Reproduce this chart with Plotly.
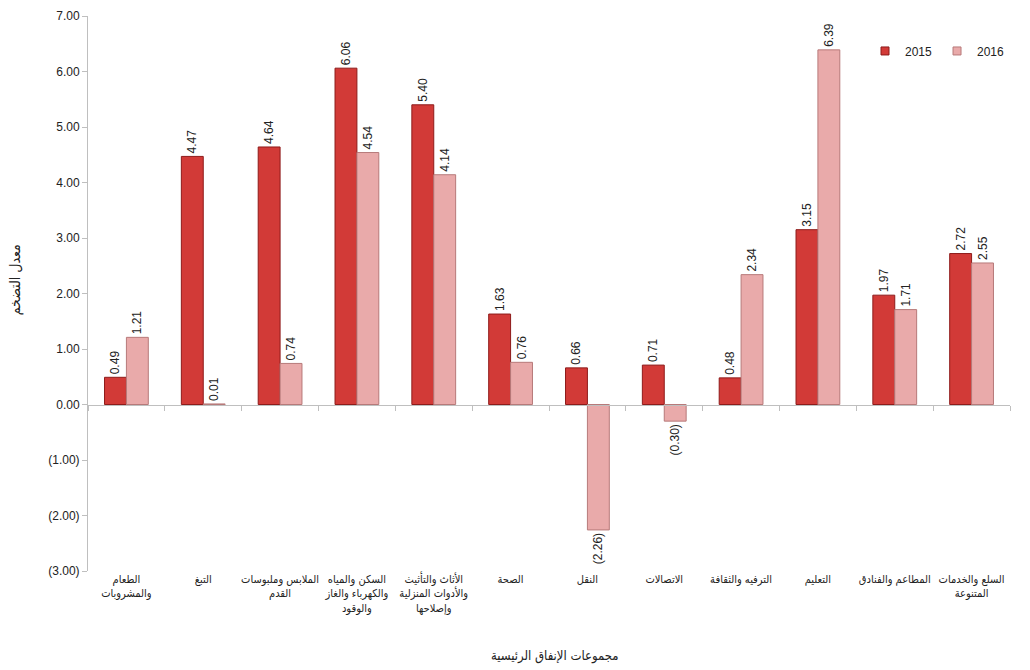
import plotly.graph_objects as go

categories = [
    "الطعام<br>والمشروبات",
    "التبغ",
    "الملابس وملبوسات<br>القدم",
    "السكن والمياه<br>والكهرباء والغاز<br>والوقود",
    "الأثاث والتأثيث<br>والأدوات المنزلية<br>وإصلاحها",
    "الصحة",
    "النقل",
    "الاتصالات",
    "الترفيه والثقافة",
    "التعليم",
    "المطاعم والفنادق",
    "السلع والخدمات<br>المتنوعة",
]
values_2015 = [0.49, 4.47, 4.64, 6.06, 5.40, 1.63, 0.66, 0.71, 0.48, 3.15, 1.97, 2.72]
values_2016 = [1.21, 0.01, 0.74, 4.54, 4.14, 0.76, -2.26, -0.30, 2.34, 6.39, 1.71, 2.55]
y_ticks = [-3, -2, -1, 0, 1, 2, 3, 4, 5, 6, 7]
series_names = ["2015", "2016"]
series_colors = ["#D23A37", "#E9AAAA"]
series_edges = ["#8E1B1A", "#B77A7A"]


def fmt(v):
    return f"({abs(v):.2f})" if v < 0 else f"{v:.2f}"


FONT = "Liberation Sans, Arial, sans-serif"
AR_FONT = "DejaVu Sans Condensed, DejaVu Sans, sans-serif"

fig = go.Figure()
for name, vals, col, edge in zip(series_names, [values_2015, values_2016],
                                 series_colors, series_edges):
    fig.add_trace(go.Bar(
        x=categories, y=vals, name=name, showlegend=False,
        marker=dict(color=col, line=dict(color=edge, width=1)),
        text=[fmt(v) for v in vals], textposition="outside",
        textangle=-90, constraintext="none", cliponaxis=False,
        textfont=dict(size=12, color="#222", family=FONT),
    ))
    # legend entry with small square marker
    fig.add_trace(go.Scatter(
        x=[None], y=[None], mode="markers", name=name,
        marker=dict(symbol="square", size=8, color=col, line=dict(color=edge, width=1)),
    ))

# Invisible trace on overlay axis to draw the zero line with category ticks
fig.add_trace(go.Scatter(x=categories, y=[0] * len(categories), xaxis="x2",
                         mode="lines", line=dict(color="rgba(0,0,0,0)"),
                         showlegend=False, hoverinfo="skip"))

fig.update_layout(
    width=1030, height=670,
    paper_bgcolor="white", plot_bgcolor="white",
    margin=dict(l=80, r=28, t=8, b=107),
    barmode="group", bargap=0.43, bargroupgap=0,
    font=dict(family=FONT, size=12, color="#222"),
    legend=dict(orientation="h", x=1.0, xanchor="right", y=0.937, yanchor="middle",
                font=dict(size=12), bgcolor="rgba(0,0,0,0)",
                itemwidth=30, tracegroupgap=0),
    xaxis=dict(
        showline=False, ticks="", showgrid=False, tickangle=0, automargin=False,
        tickfont=dict(size=11, color="#222", family=AR_FONT),
    ),
    xaxis2=dict(
        overlaying="x", anchor="free", position=0.3, matches="x",
        showline=True, linecolor="#BFBFBF", linewidth=1,
        ticks="outside", ticklen=5, tickcolor="#BFBFBF",
        tickson="boundaries", showticklabels=False, showgrid=False,
    ),
    yaxis=dict(
        range=[-3, 7], tickvals=y_ticks, ticktext=[fmt(v) for v in y_ticks],
        showline=True, linecolor="#BFBFBF", linewidth=1, automargin=False,
        ticks="outside", ticklen=5, tickcolor="#BFBFBF",
        showgrid=False, zeroline=False, ticklabeloverflow="allow",
        tickfont=dict(size=12, color="#222"),
    ),
    annotations=[
        dict(text="معدل التضخم", xref="paper", yref="paper", x=-0.079, y=0.524,
             textangle=-90, showarrow=False, xanchor="center", yanchor="middle",
             font=dict(size=14, family=AR_FONT, color="#222")),
        dict(text="مجموعات الإنفاق الرئيسية", xref="paper", yref="paper", x=0.506, y=-0.154,
             showarrow=False, xanchor="center", yanchor="middle",
             font=dict(size=13, family=AR_FONT, color="#222")),
    ],
)

fig.write_html("out.html")
